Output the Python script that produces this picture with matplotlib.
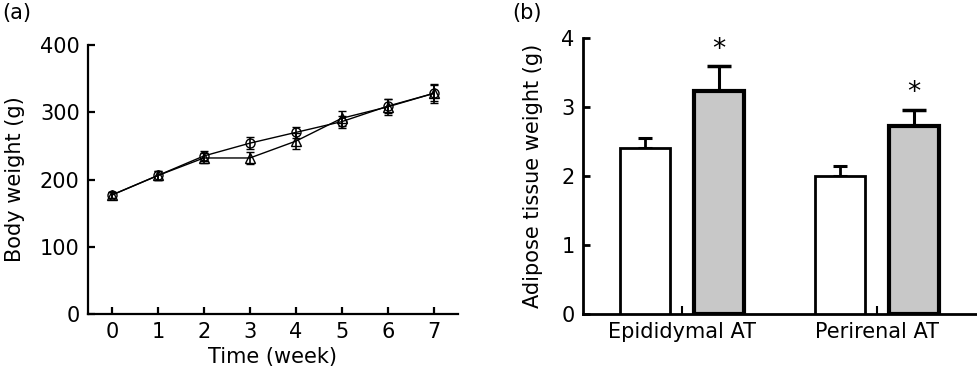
import matplotlib
matplotlib.use('Agg')
import matplotlib.pyplot as plt
import numpy as np

plt.rcParams['font.family'] = ['DejaVu Sans']

# panel (a): body weight over time
weeks = [0, 1, 2, 3, 4, 5, 6, 7]
bw_circle = [177, 206, 235, 254, 270, 286, 309, 328]
bw_circle_err = [5, 6, 7, 9, 8, 9, 10, 12]
bw_tri = [177, 206, 232, 232, 257, 291, 308, 328]
bw_tri_err = [5, 6, 8, 9, 12, 11, 12, 14]

# panel (b): adipose tissue weight
tissues = ['Epididymal AT', 'Perirenal AT']
at_white = [2.41, 2.00]
at_white_err = [0.15, 0.14]
at_grey = [3.24, 2.72]
at_grey_err = [0.35, 0.24]
signif = ['*', '*']

fs = 15

fig = plt.figure(figsize=(9.78, 3.74), dpi=100)

ax1 = fig.add_axes([0.090, 0.160, 0.378, 0.720])
ax1.errorbar(weeks, bw_circle, yerr=bw_circle_err, color='black', lw=1,
             marker='o', ms=6.5, mfc='none', mec='black', mew=1,
             capsize=3, elinewidth=1.2, capthick=1.2)
ax1.errorbar(weeks, bw_tri, yerr=bw_tri_err, color='black', lw=1,
             marker='^', ms=6.5, mfc='none', mec='black', mew=1,
             capsize=3, elinewidth=1.2, capthick=1.2)
ax1.set_xlim(-0.52, 7.52)
ax1.set_ylim(0, 400)
ax1.set_xticks(weeks)
ax1.set_yticks([0, 100, 200, 300, 400])
ax1.set_xlabel('Time (week)', fontsize=fs, labelpad=3)
ax1.set_ylabel('Body weight (g)', fontsize=fs, labelpad=11)
for s in ['top', 'right']:
    ax1.spines[s].set_visible(False)
for s in ['left', 'bottom']:
    ax1.spines[s].set_linewidth(1.6)
ax1.tick_params(direction='in', length=5, width=1.6, labelsize=fs, pad=6)

ax2 = fig.add_axes([0.596, 0.160, 0.402, 0.738])
x = np.arange(len(tissues))
off = 0.19
w = 0.256
ax2.bar(x - off, at_white, width=w, color='white', edgecolor='black', lw=2,
        zorder=3)
ax2.errorbar(x - off, at_white, yerr=[[0, 0], at_white_err], fmt='none',
             ecolor='black', elinewidth=2, capsize=5, capthick=2.2, zorder=2)
ax2.bar(x + off, at_grey, width=w, color='#c8c8c8', edgecolor='black', lw=3,
        zorder=3)
ax2.errorbar(x + off, at_grey, yerr=[[0, 0], at_grey_err], fmt='none',
             ecolor='black', elinewidth=2.2, capsize=8.5, capthick=2.5,
             zorder=2)
for xi, v, e, s in zip(x + off, at_grey, at_grey_err, signif):
    ax2.text(xi, v + e + 0.05, s, ha='center', va='bottom', fontsize=19)
ax2.set_xlim(-0.51, 1.51)
ax2.set_ylim(0, 4)
ax2.set_xticks(x)
ax2.set_xticklabels(tissues)
ax2.set_yticks([0, 1, 2, 3, 4])
ax2.set_ylabel('Adipose tissue weight (g)', fontsize=fs, labelpad=13)
for s in ['top', 'right']:
    ax2.spines[s].set_visible(False)
for s in ['left', 'bottom']:
    ax2.spines[s].set_linewidth(2)
ax2.tick_params(direction='in', length=5, width=2, labelsize=fs, pad=6)
ax2.tick_params(axis='x', length=6, width=1.5)

fig.text(0.002, 0.965, '(a)', fontsize=fs, va='center')
fig.text(0.524, 0.965, '(b)', fontsize=fs, va='center')

fig.savefig('out.png', dpi=100)
